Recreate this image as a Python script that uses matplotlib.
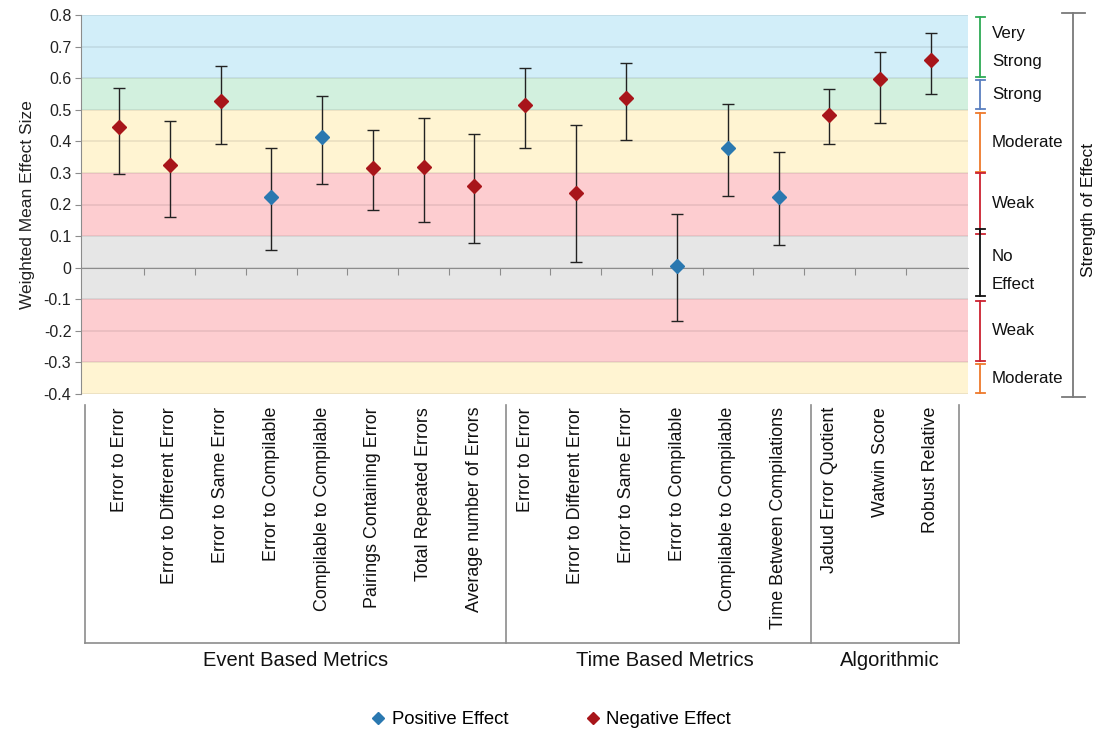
import matplotlib
matplotlib.use("Agg")
import matplotlib.pyplot as plt
from matplotlib.lines import Line2D
from matplotlib.transforms import blended_transform_factory
import numpy as np

plt.rcParams["font.family"] = ["Liberation Sans", "DejaVu Sans"]

# ---- data -----------------------------------------------------------------
metrics = [
    "Error to Error", "Error to Different Error", "Error to Same Error",
    "Error to Compilable", "Compilable to Compilable", "Pairings Containing Error",
    "Total Repeated Errors", "Average number of Errors",
    "Error to Error", "Error to Different Error", "Error to Same Error",
    "Error to Compilable", "Compilable to Compilable", "Time Between Compilations",
    "Jadud Error Quotient", "Watwin Score", "Robust Relative",
]
groups = ["Event Based Metrics", "Time Based Metrics", "Algorithmic"]
group_sizes = [8, 6, 3]

effect = [0.445, 0.324, 0.527, 0.224, 0.415, 0.315, 0.320, 0.259,
          0.516, 0.236, 0.537, 0.006, 0.380, 0.224,
          0.484, 0.596, 0.658]
upper = [0.570, 0.465, 0.639, 0.379, 0.544, 0.435, 0.475, 0.423,
         0.631, 0.453, 0.649, 0.170, 0.518, 0.365,
         0.566, 0.684, 0.744]
lower = [0.297, 0.161, 0.391, 0.057, 0.266, 0.184, 0.144, 0.079,
         0.379, 0.019, 0.405, -0.168, 0.228, 0.071,
         0.391, 0.458, 0.549]
direction = ["Negative", "Negative", "Negative", "Positive", "Positive", "Negative",
             "Negative", "Negative",
             "Negative", "Negative", "Negative", "Positive", "Positive", "Positive",
             "Negative", "Negative", "Negative"]

# background strength bands
band_edges = [-0.4, -0.3, -0.1, 0.1, 0.3, 0.5, 0.6, 0.8]
band_colors = ["#FFF4D2", "#FDCDD0", "#E6E6E6", "#FDCDD0", "#FFF4D2", "#D2F0DE", "#D2EEF9"]

# strength brackets on the right
strength_labels = ["Very\nStrong", "Strong", "Moderate", "Weak", "No\nEffect", "Weak", "Moderate"]
strength_ranges = [(0.603, 0.793), (0.502, 0.593), (0.303, 0.490), (0.106, 0.299),
                   (-0.090, 0.122), (-0.294, -0.107), (-0.397, -0.305)]
strength_colors = ["#2EAA55", "#5B7FBF", "#EE7A2C", "#CC2230", "#111111", "#CC2230", "#EE7A2C"]

series_colors = {"Positive": "#2A78B0", "Negative": "#A8151A"}
legend_labels = {"Positive": "Positive Effect", "Negative": "Negative Effect"}

# ---- figure ---------------------------------------------------------------
W, H = 1098, 733
fig = plt.figure(figsize=(W / 100, H / 100), dpi=100)


def fx(px):
    return px / W


def fy(py):
    return 1 - py / H


ax = fig.add_axes([fx(81), fy(394), fx(968) - fx(81), fy(15) - fy(394)])
x = np.arange(1, len(metrics) + 1)
ax.set_xlim(0.25, 17.73)
ax.set_ylim(-0.4, 0.8)

for (lo, hi), c in zip(zip(band_edges[:-1], band_edges[1:]), band_colors):
    ax.axhspan(lo, hi, color=c, lw=0, zorder=0)

yt = np.round(np.arange(-0.4, 0.801, 0.1), 1)
ax.set_yticks(yt)
ax.set_yticklabels(["0" if v == 0 else f"{v:.1f}" for v in yt])
ax.yaxis.grid(True, color="black", alpha=0.08, lw=1.3)
ax.set_axisbelow(True)

for s in ["top", "right"]:
    ax.spines[s].set_visible(False)
ax.spines["left"].set_color("#8C8C8C")
ax.spines["bottom"].set_position(("data", 0))
ax.spines["bottom"].set_color("#8C8C8C")
ax.spines["bottom"].set_zorder(1.5)
ax.set_xticks(np.arange(1.5, 17, 1))
ax.tick_params(axis="x", direction="out", length=5, color="#8C8C8C", labelbottom=False)
ax.tick_params(axis="y", direction="out", length=4, color="#8C8C8C",
               labelsize=11.5, labelcolor="#222222", pad=3)
ax.set_ylabel("Weighted Mean Effect Size", fontsize=12.5, color="#222222", labelpad=6)

eff = np.array(effect)
ax.errorbar(x, eff, yerr=[eff - np.array(lower), np.array(upper) - eff], fmt="none",
            ecolor="#222222", elinewidth=1.0, capsize=4, capthick=1.0, zorder=3)
for d in ["Positive", "Negative"]:
    idx = [i for i, v in enumerate(direction) if v == d]
    ax.plot(x[idx], eff[idx], ls="none", marker="D", ms=6.8, color=series_colors[d],
            mec=series_colors[d], zorder=4)

# category labels and group box below the plot
tr = blended_transform_factory(ax.transData, fig.transFigure)
for xi, name in zip(x, metrics):
    fig.text(xi, fy(407), name, transform=tr, rotation=90, ha="center", va="top",
             fontsize=12.9, color="#111111")

bounds = np.concatenate([[0.33], np.cumsum(group_sizes)[:-1] + 0.63, [17.55]])
box_kw = dict(color="#8C8C8C", lw=1.2, transform=tr, clip_on=False)
for b in bounds:
    fig.add_artist(Line2D([b, b], [fy(405), fy(643)], **box_kw))
fig.add_artist(Line2D([bounds[0], bounds[-1]], [fy(643), fy(643)], **box_kw))
group_centers = [296, 665, 890]
for g, cx in zip(groups, group_centers):
    fig.text(fx(cx), fy(661), g, ha="center", va="center", fontsize=14.5, color="#111111")

# strength brackets
trr = blended_transform_factory(fig.transFigure, ax.transData)
label_shift = [0.0, 0.0, 0.0, 0.0, -0.025, 0.0, 0.0]
for lab, (lo, hi), c, sh in zip(strength_labels, strength_ranges, strength_colors, label_shift):
    kw = dict(color=c, lw=1.3, transform=trr, clip_on=False)
    fig.add_artist(Line2D([fx(980), fx(980)], [lo, hi], **kw))
    fig.add_artist(Line2D([fx(976), fx(985)], [lo, lo], **kw))
    fig.add_artist(Line2D([fx(976), fx(985)], [hi, hi], **kw))
    fig.text(fx(992), (lo + hi) / 2 + sh, lab, transform=trr, ha="left", va="center",
             fontsize=12.2, color="#111111", linespacing=2.05)

gkw = dict(color="#7A7A7A", lw=1.3, transform=trr, clip_on=False)
fig.add_artist(Line2D([fx(1073), fx(1073)], [-0.41, 0.806], **gkw))
fig.add_artist(Line2D([fx(1062), fx(1085)], [-0.41, -0.41], **gkw))
fig.add_artist(Line2D([fx(1062), fx(1085)], [0.806, 0.806], **gkw))
fig.text(fx(1088), 0.183, "Strength of Effect", transform=trr, rotation=90,
         ha="center", va="center", fontsize=12.5, color="#111111")

# legend
handles = [Line2D([], [], ls="none", marker="D", ms=6, color=series_colors[d])
           for d in ["Positive", "Negative"]]
fig.legend(handles, [legend_labels[d] for d in ["Positive", "Negative"]],
           loc="center", bbox_to_anchor=(fx(551), fy(720)), ncol=2, frameon=False,
           fontsize=13.3, columnspacing=4.15, handlelength=0.8, handletextpad=0.35)

fig.savefig("out.png", dpi=100)
